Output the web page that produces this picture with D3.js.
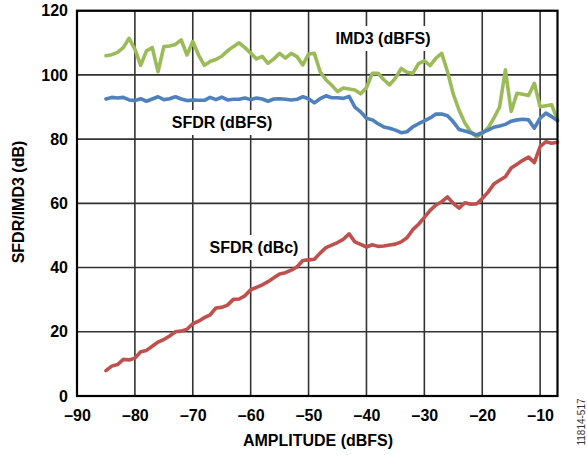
<!DOCTYPE html>
<html><head><meta charset="utf-8">
<script src="https://cdn.jsdelivr.net/npm/d3@7"></script>
<style>body{margin:0;background:#fff}svg{display:block}</style>
</head><body>
<svg id="c" width="587" height="455"></svg>
<script>
const amplitude = d3.range(-85, -6, 1);
const imd3 = [106,106.3,107,108.5,111.4,108,103,107.5,108.5,101,108.8,109,109.5,110.9,106.2,110.4,106.2,103,104.2,104.8,105.8,107.5,108.8,110,108.5,106.8,105,105.8,103.6,105,106.7,105.2,106.7,105.7,103.1,106.5,106.7,101,98.5,96.8,94.8,95.9,95.6,95.3,94.1,96,100.5,100.5,98.5,96.9,99,102,100.8,100.5,103.5,104.4,102.9,105.2,106.7,101,94,89,85,82.3,80.8,81.8,83.5,86.5,90,101.6,88.6,94.3,94,93.6,97.4,90.1,90.4,90.7,86];
const sfdrDbfs = [92.5,93,92.8,93,92.2,92,92.6,91.8,92.5,93.2,92.3,92.6,93.2,92.5,92,92.2,92.1,92.1,93,92.3,93.1,92.2,92.4,92.4,92.8,92.3,92.8,92.5,91.8,92.5,92.6,92.4,92.2,92.4,93.2,92.6,91.3,92.6,93.5,92.9,92.9,92.7,93.3,90,88.5,86.5,86,84.8,83.8,83.4,82.8,82,82.3,83.8,84.8,85.7,86.6,87.8,87.8,87.3,85.4,83,82.5,82,81.3,82,82.8,83.7,84.1,84.6,85.6,86,86.2,86,83.4,86.5,88.1,87,85.7];
const sfdrDbc = [7.9,9.3,9.8,11.4,11.2,11.8,13.8,14.2,15.5,16.8,17.6,18.7,20,20.2,20.8,22.5,23.3,24.4,25.3,27.4,27.6,28.3,30.1,30.2,31.2,33.1,33.8,34.6,35.6,36.8,38,38.4,39.2,40.2,42.2,42.4,42.6,44.5,46.2,47,47.8,48.8,50.5,48,47.2,46.4,47.1,46.6,46.7,47,47.3,48,49.3,51.8,53.5,55.6,57.8,59.5,60.5,62,60,58.5,60.2,59.7,59.8,61.5,63.5,66,67.2,68.3,71,72.2,73.4,74.4,72.7,77.7,79.2,78.7,79];
const xTicks = [-90,-80,-70,-60,-50,-40,-30,-20,-10];
const yTicks = [0,20,40,60,80,100,120];
const seriesNames = ["IMD3 (dBFS)","SFDR (dBFS)","SFDR (dBc)"];
const seriesColors = ["#9BBB59","#4F81BD","#C0504D"];

const svg = d3.select("#c");
const L = 77, R = 557.5, T = 10.7, B = 396;
const x = d3.scaleLinear().domain([-90, -7]).range([L, R]);
const y = d3.scaleLinear().domain([0, 120]).range([B, T]);
const font = "Arial, 'Liberation Sans', sans-serif";

// grid
const g = svg.append("g");
g.selectAll(".vg").data(xTicks.slice(1)).join("line")
  .attr("x1", d => x(d)).attr("x2", d => x(d)).attr("y1", T).attr("y2", B)
  .attr("stroke", "#333").attr("stroke-width", 1.6);
g.selectAll(".hg").data(yTicks.slice(1)).join("line")
  .attr("x1", L).attr("x2", R).attr("y1", d => y(d)).attr("y2", d => y(d))
  .attr("stroke", "#333").attr("stroke-width", 1.6);

// lines
const series = [imd3, sfdrDbfs, sfdrDbc];
const line = d3.line().x((d, i) => x(amplitude[i])).y(d => y(d));
series.forEach((s, k) => {
  svg.append("path").datum(s).attr("d", line).attr("fill", "none")
    .attr("stroke", seriesColors[k]).attr("stroke-width", 3.6)
    .attr("stroke-linejoin", "round").attr("stroke-linecap", "round");
});

// labels with white boxes
const labels = [
  {t: seriesNames[0], x: 383, y: 44},
  {t: seriesNames[1], x: 222, y: 128},
  {t: seriesNames[2], x: 254, y: 253}
];
labels.forEach(l => {
  const txt = svg.append("text").attr("x", l.x).attr("y", l.y).attr("text-anchor", "middle")
    .attr("font-family", font).attr("font-weight", "bold").attr("font-size", 16).text(l.t);
  const bb = txt.node().getBBox();
  svg.insert("rect", "path").attr("x", bb.x - 4).attr("y", bb.y - 4).attr("width", bb.width + 8).attr("height", bb.height + 8).attr("fill", "#fff");
});
g.lower();

// border
svg.append("rect").attr("x", L).attr("y", T).attr("width", R - L).attr("height", B - T)
  .attr("fill", "none").attr("stroke", "#000").attr("stroke-width", 2.2);

// axes using d3 axis
const xa = svg.append("g").attr("transform", `translate(0,${B})`)
  .call(d3.axisBottom(x).tickValues(xTicks).tickSize(0).tickPadding(14).tickFormat(d => "\u2013" + Math.abs(d)));
const ya = svg.append("g").attr("transform", `translate(${L},0)`)
  .call(d3.axisLeft(y).tickValues(yTicks).tickSize(0).tickPadding(9));
[xa, ya].forEach(a => {
  a.select(".domain").remove();
  a.selectAll("text").attr("font-family", font).attr("font-weight", "bold").attr("font-size", 16).attr("fill", "#000");
});

svg.append("text").attr("x", 318).attr("y", 446).attr("text-anchor", "middle")
  .attr("font-family", font).attr("font-weight", "bold").attr("font-size", 16).text("AMPLITUDE (dBFS)");
svg.append("text").attr("transform", "translate(24,202) rotate(-90)").attr("text-anchor", "middle")
  .attr("font-family", font).attr("font-weight", "bold").attr("font-size", 16).text("SFDR/IMD3 (dB)");
svg.append("text").attr("transform", "translate(585,422) rotate(-90)").attr("text-anchor", "middle")
  .attr("font-family", font).attr("font-size", 10).attr("fill", "#333").text("11814-517");
</script>
</body></html>
